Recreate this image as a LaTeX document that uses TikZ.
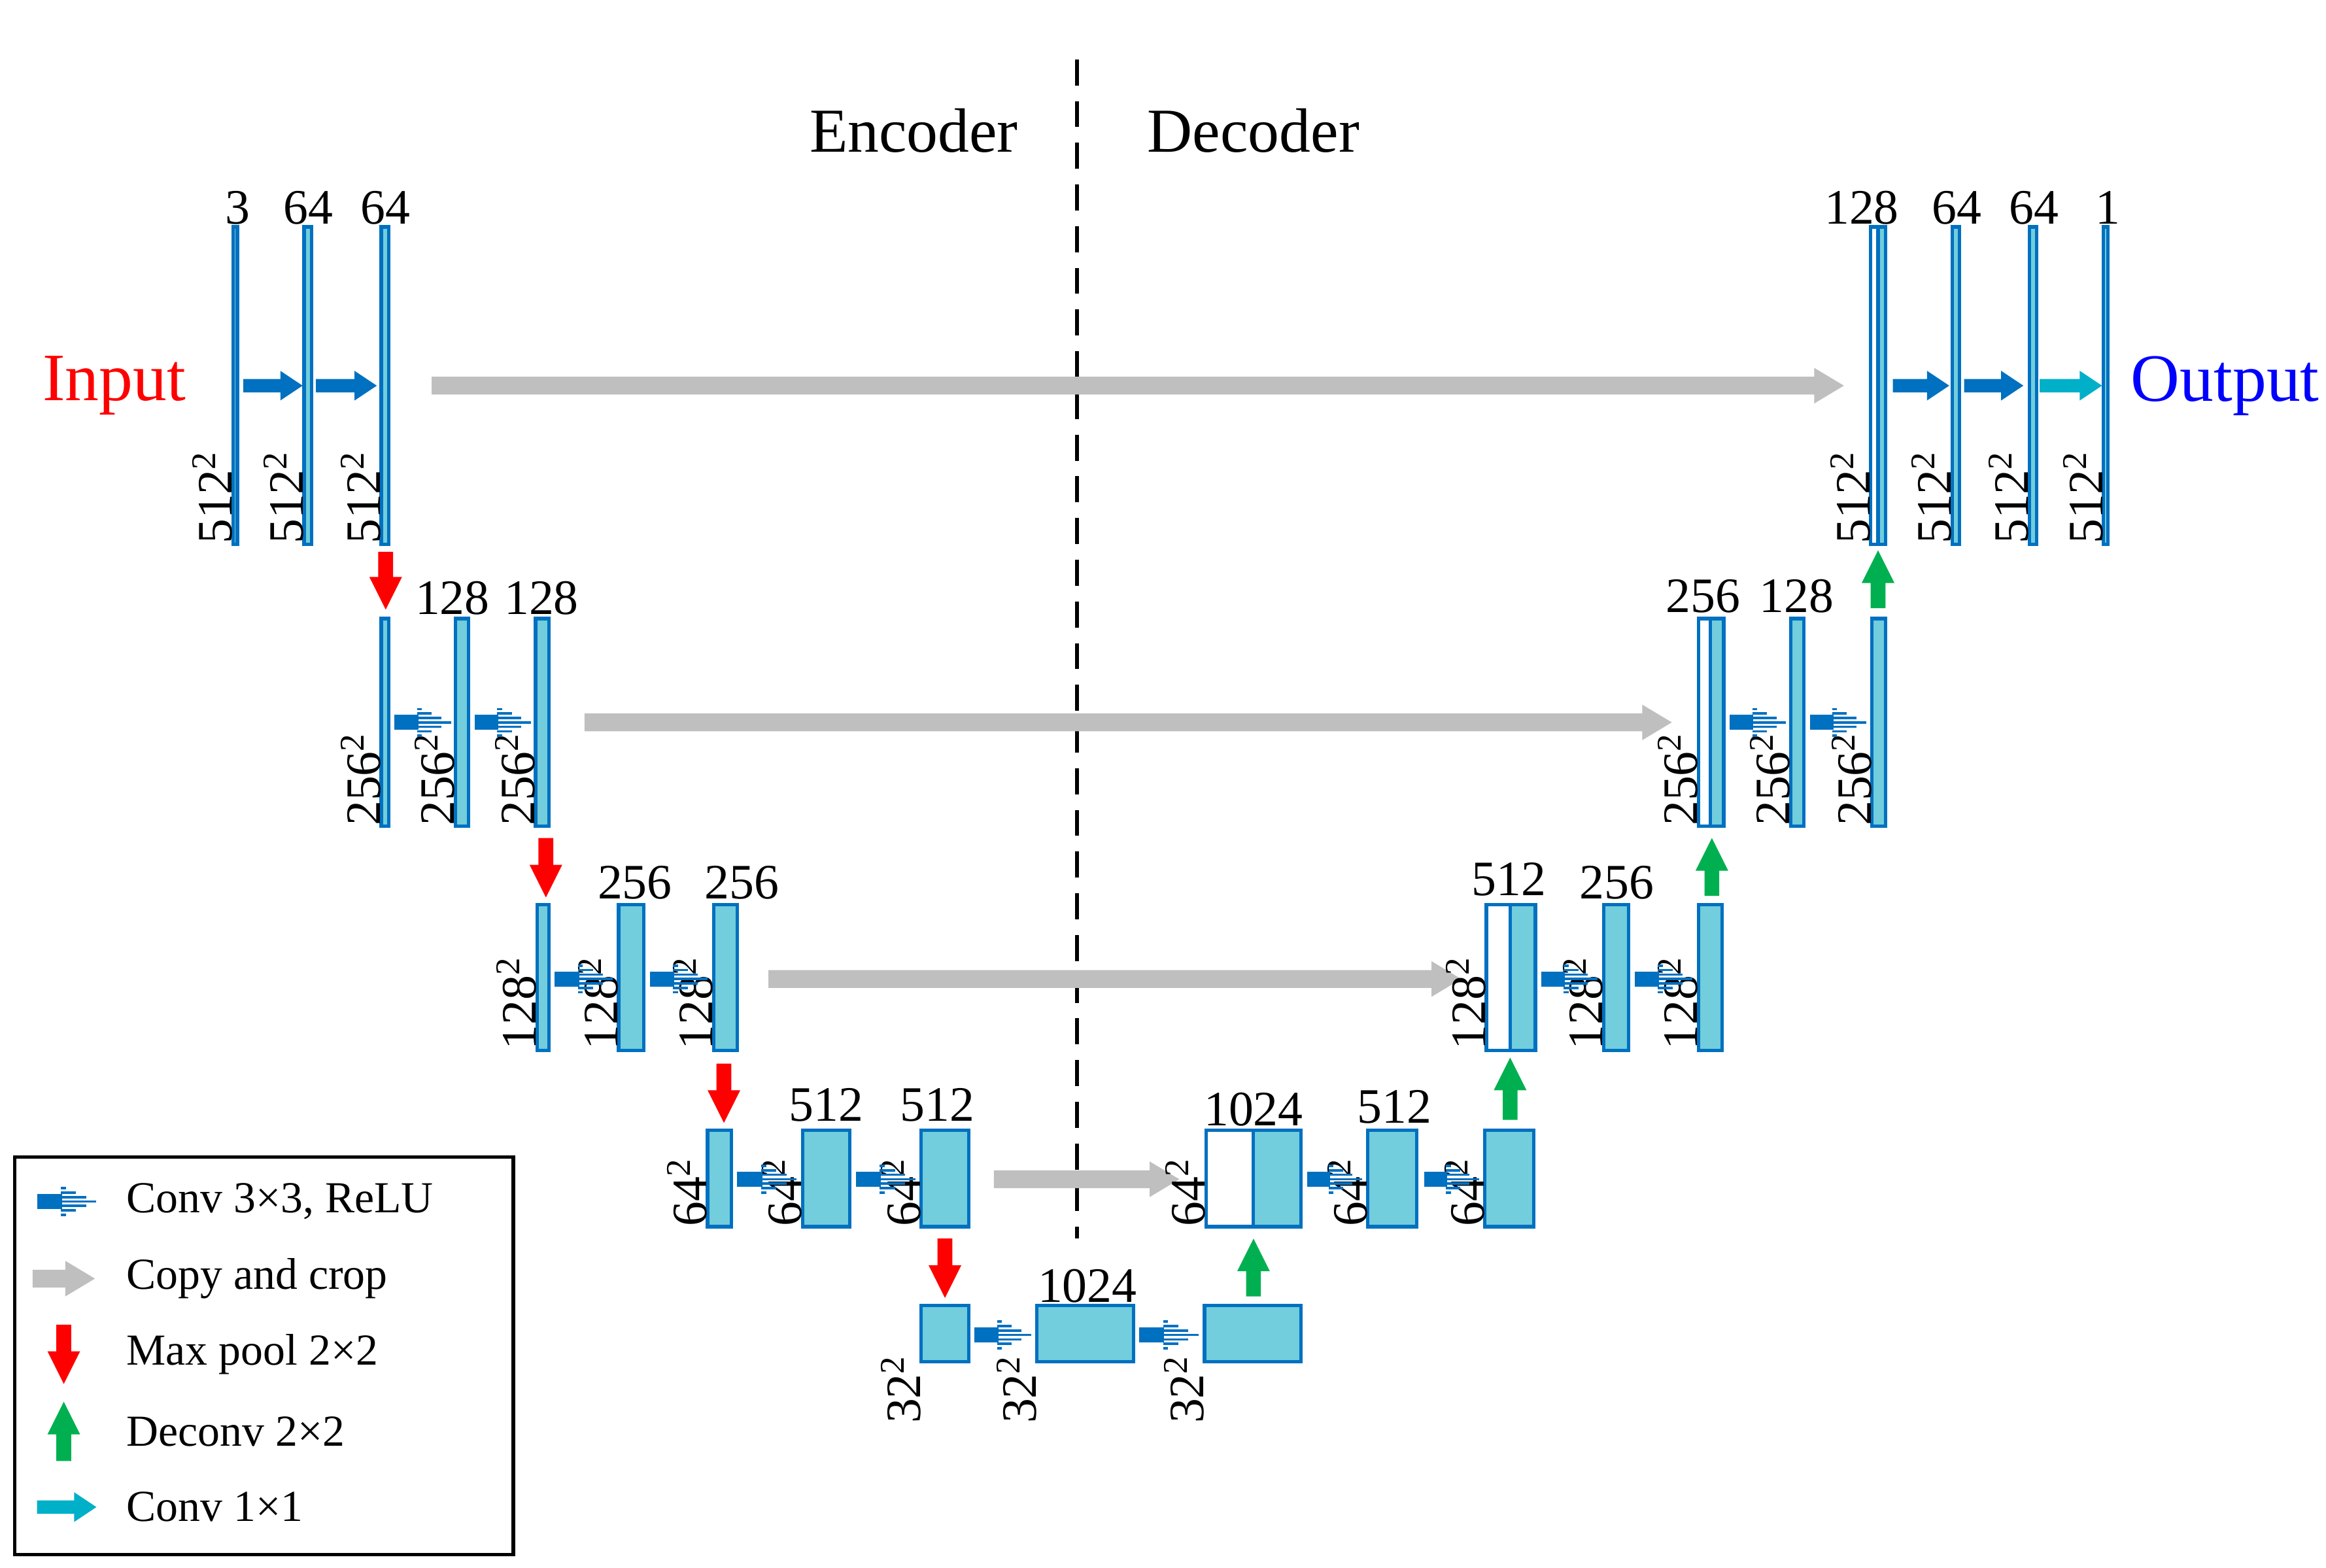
\documentclass[tikz,border=0pt]{standalone}
\usepackage{fontspec}
\setmainfont{Liberation Serif}
\definecolor{cblue}{HTML}{0070C0}
\definecolor{cfill}{HTML}{72CDDC}
\definecolor{ccyan}{HTML}{00B0C8}
\definecolor{cgray}{HTML}{BFBFBF}
\definecolor{cgreen}{HTML}{00B050}
\newcommand\blk[4]{\draw[cblue,line width=1.3pt,fill=cfill] (#1,#3) rectangle (#2,#4);}
\newcommand\wblk[4]{\draw[cblue,line width=1.3pt,fill=white] (#1,#3) rectangle (#2,#4);}
\newcommand\harr[4]{\fill[#4] (#1,#3-4.5) -- (#2-15,#3-4.5) -- (#2-15,#3-10) -- (#2,#3) -- (#2-15,#3+10) -- (#2-15,#3+4.5) -- (#1,#3+4.5) -- cycle;}
\newcommand\garr[3]{\fill[cgray] (#1,#3-6) -- (#2-20,#3-6) -- (#2-20,#3-12) -- (#2,#3) -- (#2-20,#3+12) -- (#2-20,#3+6) -- (#1,#3+6) -- cycle;}
\newcommand\carr[3]{\fill[cblue] (#1,#3-5) rectangle ({#1+0.42*(#2-#1)},#3+5);
 \foreach \s in {-9,-6,-3,0,3,6,9}{\fill[cblue] ({#1+0.4*(#2-#1)},#3+\s-0.8) rectangle ({#1+0.4*(#2-#1)+0.6*(#2-#1)*(1-abs(\s)/10.5)},#3+\s+0.8);}}
\newcommand\darr[3]{\fill[red] (#1-5,#2) -- (#1+5,#2) -- (#1+5,#3-22) -- (#1+11,#3-22) -- (#1,#3) -- (#1-11,#3-22) -- (#1-5,#3-22) -- cycle;}
\newcommand\uarr[3]{\fill[cgreen] (#1-5,#2) -- (#1+5,#2) -- (#1+5,#3+22) -- (#1+11,#3+22) -- (#1,#3) -- (#1-11,#3+22) -- (#1-5,#3+22) -- cycle;}
\begin{document}
\begin{tikzpicture}[x=0.02cm,y=-0.02cm,
 num/.style={font=\fontsize{19}{19}\selectfont,inner sep=0pt},
 rl/.style={font=\fontsize{19}{19}\selectfont,inner sep=0pt,rotate=90,anchor=south west},
 lg/.style={font=\fontsize{17}{17}\selectfont,inner sep=0pt,anchor=west}]
\useasboundingbox (0,0) rectangle (1568,1057);
% dashed line and titles
\draw[line width=1.3pt,dash pattern=on 10pt off 6pt] (726,40) -- (726,835);
\node[font=\fontsize{24}{24}\selectfont] (enc) at (616,88) {Encoder};
\node[font=\fontsize{24}{24}\selectfont] (dec) at (845,88) {Decoder};
% level 1
\blk{157}{160}{153}{367}\blk{205}{210}{153}{367}\blk{257}{262}{153}{367}
\node[num] at (160,140){3};\node[num] at (208,140){64};\node[num] at (260,140){64};
\foreach \x in {133,181,233}{\node[rl] at (\x+24,367){512\textsuperscript{2}};}
\harr{164}{204}{260}{cblue}\harr{213}{254}{260}{cblue}
\garr{291}{1243}{260}
\wblk{1261}{1266}{153}{367}\blk{1266}{1271}{153}{367}
\blk{1316}{1321}{153}{367}\blk{1368}{1373}{153}{367}\blk{1418}{1421}{153}{367}
\node[num] at (1255,140){128};\node[num] at (1319,140){64};\node[num] at (1371,140){64};\node[num] at (1421,140){1};
\foreach \x in {1261,1316,1368,1418}{\node[rl] at (\x,367){512\textsuperscript{2}};}
\harr{1276}{1314}{260}{cblue}\harr{1324}{1364}{260}{cblue}\harr{1375}{1417}{260}{ccyan}
\node[font=\fontsize{26}{26}\selectfont,text=red] at (77,260){Input};
\node[font=\fontsize{26}{26}\selectfont,text=blue] at (1500,260){Output};
% level 2
\darr{260}{372}{411}\uarr{1266}{410}{371}
\blk{257}{262}{417}{557}\blk{307}{316}{417}{557}\blk{361}{370}{417}{557}
\node[num] at (305,403){128};\node[num] at (365,403){128};
\foreach \x in {257,307,361}{\node[rl] at (\x,557){256\textsuperscript{2}};}
\carr{266}{304}{487}\carr{320}{358}{487}
\garr{394}{1127}{487}
\wblk{1145}{1153}{417}{557}\blk{1153}{1162}{417}{557}\blk{1207}{1216}{417}{557}\blk{1262}{1271}{417}{557}
\node[num] at (1148,402){256};\node[num] at (1211,402){128};
\foreach \x in {1145,1207,1262}{\node[rl] at (\x,557){256\textsuperscript{2}};}
\carr{1166}{1204}{487}\carr{1220}{1258}{487}
% level 3
\darr{368}{565}{605}\uarr{1154}{604}{565}
\blk{362}{370}{610}{708}\blk{417}{434}{610}{708}\blk{481}{497}{610}{708}
\node[num] at (428,595){256};\node[num] at (500,595){256};
\foreach \x in {362,417,481}{\node[rl] at (\x,708){128\textsuperscript{2}};}
\carr{374}{413}{660}\carr{438}{477}{660}
\garr{518}{985}{660}
\wblk{1002}{1018}{610}{708}\blk{1018}{1035}{610}{708}\blk{1081}{1098}{610}{708}\blk{1145}{1161}{610}{708}
\node[num] at (1017,593){512};\node[num] at (1090,595){256};
\foreach \x in {1002,1081,1145}{\node[rl] at (\x,708){128\textsuperscript{2}};}
\carr{1039}{1077}{660}\carr{1102}{1141}{660}
% level 4
\darr{488}{717}{757}\uarr{1018}{755}{713}
\blk{477}{493}{762}{827}\blk{541}{573}{762}{827}\blk{621}{653}{762}{827}
\node[num] at (557,745){512};\node[num] at (632,745){512};
\foreach \x in {477,541,621}{\node[rl] at (\x,827){64\textsuperscript{2}};}
\carr{497}{537}{795}\carr{577}{617}{795}
\garr{670}{795}{795}
\wblk{813}{845}{762}{827}\blk{845}{877}{762}{827}\blk{922}{955}{762}{827}\blk{1001}{1034}{762}{827}
\node[num] at (845,748){1024};\node[num] at (940,746){512};
\foreach \x in {813,922,1001}{\node[rl] at (\x,827){64\textsuperscript{2}};}
\carr{881}{918}{795}\carr{960}{997}{795}
% level 5
\darr{637}{835}{875}\uarr{845}{874}{835}
\blk{621}{653}{880}{918}\blk{699}{764}{880}{918}\blk{812}{877}{880}{918}
\node[num] at (733,867){1024};
\foreach \x in {621,699,812}{\node[rl] at (\x,960){32\textsuperscript{2}};}
\carr{657}{695}{900}\carr{768}{808}{900}
% legend
\draw[line width=1.3pt] (10,780) rectangle (346,1048);
\carr{25}{65}{810}\node[lg] at (85,810){Conv 3×3, ReLU};
\garr{22}{64}{862}\node[lg] at (85,862){Copy and crop};
\darr{43}{893}{933}\node[lg] at (85,913){Max pool 2×2};
\uarr{43}{985}{945}\node[lg] at (85,965){Deconv 2×2};
\harr{25}{65}{1016}{ccyan}\node[lg] at (85,1016){Conv 1×1};
\end{tikzpicture}
\end{document}
